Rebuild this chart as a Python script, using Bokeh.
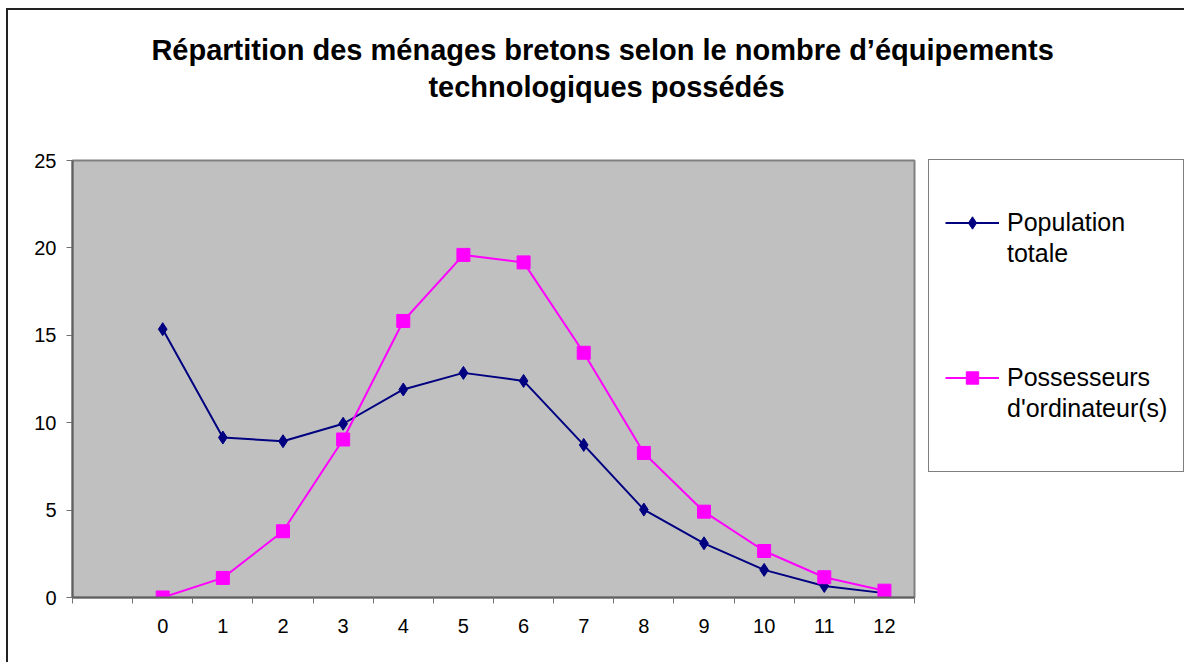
from bokeh.plotting import figure
from bokeh.models import (FixedTicker, LinearAxis, Legend, LegendItem, Title, Range1d)
from bokeh.embed import file_html
from bokeh.resources import INLINE

# ---- data ----
categories = [str(i) for i in range(13)]
population_totale = [15.35, 9.15, 8.94, 9.94, 11.9, 12.85, 12.39, 8.73, 5.03, 3.10, 1.58, 0.66, 0.25]
possesseurs_ordinateur = [0.0, 1.12, 3.79, 9.04, 15.82, 19.6, 19.17, 14.0, 8.27, 4.91, 2.66, 1.16, 0.39]
y_ticks = [0, 5, 10, 15, 20, 25]
title_line1 = "Répartition des ménages bretons selon le nombre  d’équipements"
title_line2 = "technologiques possédés"
series_names = [["Population", "totale"], ["Possesseurs", "d'ordinateur(s)"]]

x_pos = list(range(len(categories)))

FONT = "Liberation Sans"
FL, FT = 64, 150          # frame offsets in canvas pixels
FW, FH = 842, 437         # frame size
RB, BB = 268, 65          # right / bottom borders

p = figure(frame_width=FW, frame_height=FH, output_backend="svg", toolbar_location=None,
           x_range=Range1d(-1.5, len(categories) - 0.5), y_range=Range1d(0, 25),
           min_border_left=FL, min_border_right=RB, min_border_top=FT,
           min_border_bottom=BB, x_axis_type=None, y_axis_type=None)
p.margin = (8, 0, 0, 6)
p.styles = {"border-left": "2px solid #222222", "border-top": "2px solid #222222"}

p.background_fill_color = "#C0C0C0"
p.border_fill_color = "white"
p.outline_line_color = "#808080"
p.outline_line_width = 2

# x axis: labels at category centres, tick marks at category boundaries
xaxis = LinearAxis(ticker=FixedTicker(ticks=x_pos,
                                      minor_ticks=[i - 0.5 for i in range(-1, len(categories) + 1)]))
xaxis.major_label_overrides = {i: c for i, c in zip(x_pos, categories)}
xaxis.major_tick_out = 6
xaxis.major_tick_in = 0
xaxis.major_tick_line_color = None
xaxis.minor_tick_out = 6
xaxis.minor_tick_in = 0
xaxis.minor_tick_line_color = "#707070"
xaxis.minor_tick_line_width = 1
xaxis.axis_line_color = "#606060"
xaxis.axis_line_width = 2
xaxis.major_label_standoff = 15
xaxis.major_label_text_font = FONT
xaxis.major_label_text_font_size = "20px"
xaxis.major_label_text_color = "black"
p.add_layout(xaxis, "below")

yaxis = LinearAxis(ticker=FixedTicker(ticks=y_ticks, minor_ticks=[]))
yaxis.major_tick_out = 6
yaxis.major_tick_in = 0
yaxis.major_tick_line_color = "#707070"
yaxis.minor_tick_out = 0
yaxis.minor_tick_in = 0
yaxis.axis_line_color = "#606060"
yaxis.axis_line_width = 2
yaxis.major_label_standoff = 10
yaxis.major_label_text_font = FONT
yaxis.major_label_text_font_size = "20px"
yaxis.major_label_text_color = "black"
p.add_layout(yaxis, "left")

p.ygrid.ticker = FixedTicker(ticks=y_ticks)
p.ygrid.grid_line_color = "black"
p.ygrid.grid_line_width = 1
p.xgrid.grid_line_color = None

# spacer between frame and the title lines
spacer = Title(text=" ", text_font=FONT, text_font_size="10px", standoff=43)
p.add_layout(spacer, "above")

TS = 29
tw1 = 31.387 * TS
tw2 = 12.281 * TS
CX = 598
t2 = Title(text=title_line2, align="left", offset=CX - tw2 / 2 - FL,
           text_font=FONT, text_font_size=f"{TS}px", text_font_style="bold",
           text_color="black", standoff=3)
t1 = Title(text=title_line1, align="left", offset=CX - tw1 / 2 - FL,
           text_font=FONT, text_font_size=f"{TS}px", text_font_style="bold",
           text_color="black", standoff=3)
p.add_layout(t2, "above")
p.add_layout(t1, "above")

# series
l1 = p.line(x_pos, population_totale, line_color="#000080", line_width=2)
m1 = p.scatter(x_pos, population_totale, marker="diamond", size=13,
               fill_color="#000080", line_color="#000080")
l2 = p.line(x_pos, possesseurs_ordinateur, line_color="#FF00FF", line_width=2)
m2 = p.scatter(x_pos, possesseurs_ordinateur, marker="square", size=13,
               fill_color="#FF00FF", line_color="#FF00FF")

blank = p.scatter([], [], marker="square", size=1, fill_alpha=0, line_alpha=0)

items = [
    LegendItem(label=" ", renderers=[blank]),
    LegendItem(label=series_names[0][0], renderers=[l1, m1]),
    LegendItem(label=series_names[0][1], renderers=[blank]),
    LegendItem(label=" ", renderers=[blank]),
    LegendItem(label=" ", renderers=[blank]),
    LegendItem(label=" ", renderers=[blank]),
    LegendItem(label=series_names[1][0], renderers=[l2, m2]),
    LegendItem(label=series_names[1][1], renderers=[blank]),
    LegendItem(label=" ", renderers=[blank]),
]
legend = Legend(items=items, location=(14, 125), orientation="vertical",
                padding=16, spacing=0, margin=0,
                glyph_width=54, glyph_height=31, label_height=31,
                label_standoff=8, label_text_font=FONT,
                label_text_font_size="25px", label_text_color="black",
                border_line_color="black", border_line_width=1,
                background_fill_color="white", background_fill_alpha=1)
p.add_layout(legend, "right")

open("out.html", "w").write(file_html(p, INLINE))
